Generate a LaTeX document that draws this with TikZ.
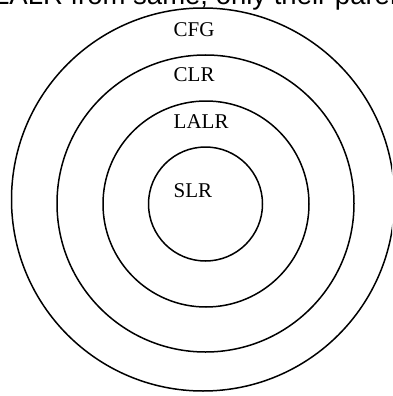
\documentclass[tikz,border=0pt]{standalone}
\usepackage{fontspec}
\setmainfont{Liberation Serif}
\newfontfamily\topsans{Liberation Sans}
\begin{document}
\begin{tikzpicture}[x=1pt,y=-1pt,
  ring/.style={draw=black,line width=1.5pt},
  lbl/.style={anchor=base west,inner sep=0pt,font=\fontsize{21}{24}\selectfont},
  toptext/.style={anchor=base west,inner sep=0pt,font=\topsans\fontsize{27.5}{30}\selectfont}]
\useasboundingbox (0,0) rectangle (392,396);
\clip (0,0) rectangle (392,396);
\fill[white] (0,0) rectangle (392,396);
\node[toptext] (cap) at (-6,5) {LALR from same, only their parent};
\draw[ring] (203,199.5) circle[radius=191.5];
\draw[ring] (205.5,203.5) circle[radius=148.5];
\draw[ring] (206,204) circle[radius=103];
\draw[ring] (205.5,204) circle[radius=57];
\node[lbl] (cfg) at (173.5,36.7) {CFG};
\node[lbl] (clr) at (173.5,81.7) {CLR};
\node[lbl] (lalr) at (173.5,128.3) {LALR};
\node[lbl] (slr) at (173.5,197.3) {SLR};
\end{tikzpicture}
\end{document}
